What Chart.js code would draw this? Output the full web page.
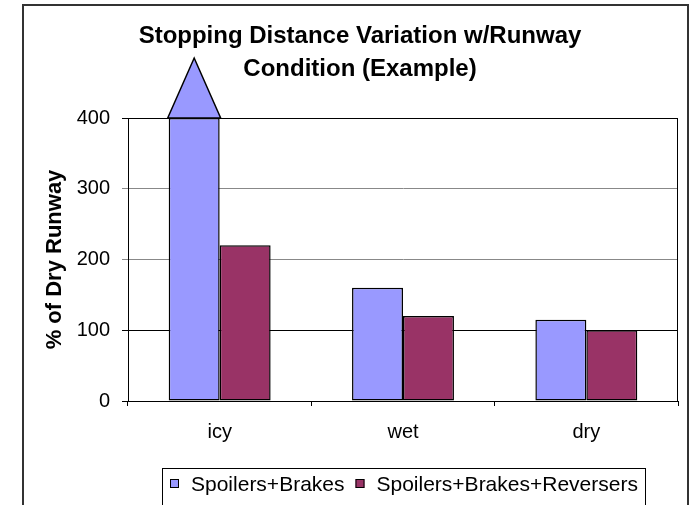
<!DOCTYPE html>
<html>
<head>
<meta charset="utf-8">
<title>Stopping Distance Variation</title>
<script src="https://cdn.jsdelivr.net/npm/chart.js@4.4.1/dist/chart.umd.min.js"></script>
<style>
  html, body { margin: 0; padding: 0; background: #fff; }
  canvas { display: block; }
</style>
</head>
<body>
<canvas id="chart" width="691" height="505"></canvas>
<script>
// data
const titleLines = ["Stopping Distance Variation w/Runway", "Condition (Example)"];
const categories = ["icy", "wet", "dry"];
const seriesNames = ["Spoilers+Brakes", "Spoilers+Brakes+Reversers"];
const spoilersBrakes = [400, 160, 115];
const spoilersBrakesReversers = [220, 120, 100];
const yTicks = [0, 100, 200, 300, 400];
const yLabel = "% of Dry Runway";

const colors = ["#9999FF", "#993366"];
const FONT = "'Liberation Sans', Arial, sans-serif";

// title, legend box, frames and the "off the scale" arrow on top of the icy bar
const excelLook = {
  id: "excelLook",
  afterDraw(chart) {
    const ctx = chart.ctx;
    const area = chart.chartArea;
    ctx.save();

    // plot area frame
    ctx.strokeStyle = "#000";
    ctx.lineWidth = 1;
    ctx.strokeRect(area.left + 0.5, area.top + 0.5, area.right - area.left - 1, area.bottom - area.top);

    // arrow above the clipped bar
    const yMax = chart.scales.y.max;
    chart.getDatasetMeta(0).data.forEach((bar, i) => {
      if (spoilersBrakes[i] < yMax) return;
      const half = bar.width / 2 + 1;
      ctx.beginPath();
      ctx.moveTo(bar.x - half, area.top);
      ctx.lineTo(bar.x, area.top - 60);
      ctx.lineTo(bar.x + half, area.top);
      ctx.closePath();
      ctx.fillStyle = colors[0];
      ctx.fill();
      ctx.lineWidth = 1.5;
      ctx.strokeStyle = "#000";
      ctx.stroke();
    });

    // chart title
    ctx.fillStyle = "#000";
    ctx.font = "bold 24px " + FONT;
    ctx.textAlign = "center";
    ctx.textBaseline = "alphabetic";
    ctx.fillText(titleLines[0], 360, 43);
    ctx.fillText(titleLines[1], 360, 76);

    // legend
    ctx.font = "21px " + FONT;
    const widths = seriesNames.map(n => ctx.measureText(n).width);
    const total = 8 + 9 + 12 + widths[0] + 11 + 9 + 11 + widths[1] + 8;
    const boxLeft = Math.round((area.left + area.right) / 2 - total / 2);
    ctx.lineWidth = 1;
    ctx.strokeStyle = "#000";
    ctx.strokeRect(boxLeft + 0.5, 468.5, Math.round(total), 45);
    let x = boxLeft + 8;
    ctx.textAlign = "left";
    ctx.textBaseline = "middle";
    seriesNames.forEach((name, i) => {
      ctx.fillStyle = colors[i];
      ctx.fillRect(x, 479, 9, 9);
      ctx.strokeRect(x + 0.5, 479.5, 8, 8);
      ctx.fillStyle = "#000";
      ctx.fillText(name, x + 9 + 12, 485);
      x += 9 + 12 + widths[i] + 11;
    });

    // outer chart frame
    ctx.strokeStyle = "#333";
    ctx.lineWidth = 2;
    ctx.strokeRect(23, 5, 665, 520);
    ctx.restore();
  }
};

new Chart(document.getElementById("chart"), {
  type: "bar",
  data: {
    labels: categories,
    datasets: [
      {
        label: seriesNames[0],
        data: spoilersBrakes,
        backgroundColor: colors[0],
        borderColor: "#000",
        borderWidth: 1.5,
        borderSkipped: false
      },
      {
        label: seriesNames[1],
        data: spoilersBrakesReversers,
        backgroundColor: colors[1],
        borderColor: "#000",
        borderWidth: 1.5,
        borderSkipped: false
      }
    ]
  },
  options: {
    responsive: false,
    animation: false,
    devicePixelRatio: 1,
    layout: { padding: { left: 0, right: 13, top: 118, bottom: 0 } },
    datasets: { bar: { barPercentage: 1, categoryPercentage: 0.556 } },
    plugins: {
      legend: { display: false },
      title: { display: false },
      tooltip: { enabled: false }
    },
    scales: {
      x: {
        afterFit: s => { s.height = 104; },
        grid: {
          offset: true,
          drawOnChartArea: false,
          tickLength: 5,
          color: "#000"
        },
        border: { color: "#000", width: 1 },
        ticks: {
          color: "#000",
          padding: 14,
          font: { family: FONT, size: 20 }
        }
      },
      y: {
        min: 0,
        max: 400,
        afterFit: s => { s.width = 128; },
        afterBuildTicks: s => { s.ticks = yTicks.map(v => ({ value: v })); },
        grid: {
          tickLength: 6,
          color: c => (c.tick && (c.tick.value === 200 || c.tick.value === 300)) ? "#888" : "#000"
        },
        border: { color: "#000", width: 1 },
        ticks: {
          color: "#000",
          padding: 12,
          font: { family: FONT, size: 20 }
        },
        title: {
          display: true,
          text: yLabel,
          color: "#000",
          padding: { top: 42, bottom: 0 },
          font: { family: FONT, size: 22, weight: "bold" }
        }
      }
    }
  },
  plugins: [excelLook]
});
</script>
</body>
</html>
